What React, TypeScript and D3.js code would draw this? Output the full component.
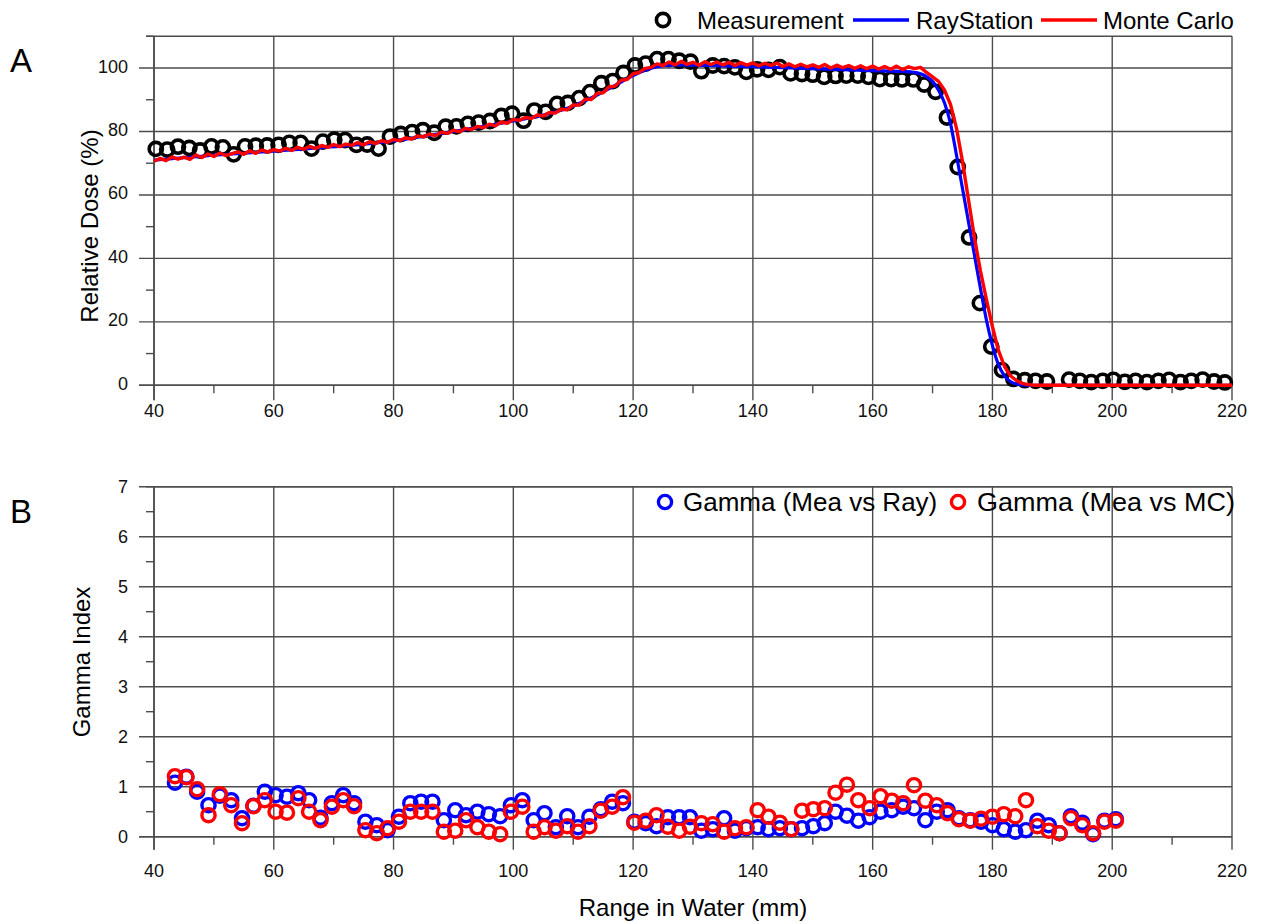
import React from 'react';
import * as d3 from 'd3';

// ---------- data ----------
const xTicks = [40, 60, 80, 100, 120, 140, 160, 180, 200, 220];
const xMinorTicks = [50, 70, 90, 110, 130, 150, 170, 190, 210];
const doseTicks = [0, 20, 40, 60, 80, 100];
const doseMinorTicks = [10, 30, 50, 70, 90, 110];
const gammaTicks = [0, 1, 2, 3, 4, 5, 6, 7];
const gammaMinorTicks = [0.5, 1.5, 2.5, 3.5, 4.5, 5.5, 6.5];

const measX = [
  40.3, 42.2, 44.0, 45.9, 47.7, 49.6, 51.5, 53.3, 55.2, 57.0,
  58.9, 60.8, 62.6, 64.5, 66.3, 68.2, 70.1, 71.9, 73.8, 75.6,
  77.5, 79.4, 81.2, 83.1, 84.9, 86.8, 88.7, 90.5, 92.4, 94.2,
  96.1, 98.0, 99.8, 101.7, 103.5, 105.4, 107.3, 109.1, 111.0, 112.8,
  114.7, 116.6, 118.4, 120.3, 122.1, 124.0, 125.9, 127.7, 129.6, 131.4,
  133.3, 135.2, 137.0, 138.9, 140.7, 142.6, 144.5, 146.3, 148.2, 150.0,
  151.9, 153.8, 155.6, 157.5, 159.3, 161.2, 163.1, 164.9, 166.8, 168.6,
  170.5, 172.4, 174.2, 176.1, 177.9, 179.8, 181.6, 183.5, 185.4, 187.2,
  189.1, 192.8, 194.6, 196.5, 198.4, 200.2, 202.1, 203.9, 205.8, 207.7,
  209.5, 211.4, 213.2, 215.1, 217.0, 218.8,
];
const measY = [
  74.5, 74.3, 75.2, 74.8, 74.0, 75.3, 75.0, 72.8, 75.3, 75.5,
  75.6, 75.8, 76.4, 76.4, 74.6, 76.8, 77.4, 77.3, 75.8, 75.9,
  74.6, 78.4, 79.2, 79.8, 80.4, 79.6, 81.5, 81.6, 82.4, 82.8,
  83.3, 84.9, 85.6, 83.4, 86.6, 86.2, 88.7, 89.0, 90.5, 92.4,
  95.2, 95.9, 98.5, 100.8, 101.4, 102.8, 102.8, 102.3, 102.0, 99.0,
  100.8, 100.6, 100.2, 98.8, 99.6, 99.4, 100.3, 98.3, 98.1, 97.9,
  97.2, 97.5, 97.6, 97.6, 97.2, 96.5, 96.5, 96.4, 96.4, 94.8,
  92.5, 84.4, 68.8, 46.6, 25.9, 12.2, 4.8, 2.0, 1.6, 1.4,
  1.2, 1.8, 1.4, 1.0, 1.4, 1.7, 1.1, 1.4, 1.0, 1.4,
  1.7, 1.0, 1.4, 1.8, 1.2, 0.9,
];

const rayX = [
  40, 50, 60, 70, 80, 85, 90, 95, 100, 105,
  108, 110, 112, 114, 116, 118, 120, 122, 124, 126,
  128, 130, 135, 140, 145, 150, 155, 160, 165, 167,
  168, 169, 170, 171, 172, 173, 174, 175, 176, 177,
  178, 179, 180, 181, 182, 183, 184, 185, 186, 220,
];
const rayY = [
  71, 72.5, 73.8, 75.2, 77, 78.5, 80, 81.6, 83.3, 85.2,
  86.7, 88, 89.7, 91.5, 93.5, 95.6, 97.6, 99.3, 100.4, 100.9,
  101, 100.9, 100.7, 100.4, 100.1, 99.8, 99.5, 99.2, 98.9, 98.6,
  98.2, 97.3, 95.8, 93, 89, 82.5, 72.5, 62, 51.5, 41,
  30.5, 20.5, 12.5, 6.5, 3, 1.2, 0.4, 0.1, 0, 0,
];

const mcX = [
  40, 41, 42, 43, 44, 45, 46, 47, 48, 49,
  50, 51, 52, 53, 54, 55, 56, 57, 58, 59,
  60, 61, 62, 63, 64, 65, 66, 67, 68, 69,
  70, 71, 72, 73, 74, 75, 76, 77, 78, 79,
  80, 81, 82, 83, 84, 85, 86, 87, 88, 89,
  90, 91, 92, 93, 94, 95, 96, 97, 98, 99,
  100, 101, 102, 103, 104, 105, 106, 107, 108, 109,
  110, 111, 112, 113, 114, 115, 116, 117, 118, 119,
  120, 121, 122, 123, 124, 125, 126, 127, 128, 129,
  130, 131, 132, 133, 134, 135, 136, 137, 138, 139,
  140, 141, 142, 143, 144, 145, 146, 147, 148, 149,
  150, 151, 152, 153, 154, 155, 156, 157, 158, 159,
  160, 161, 162, 163, 164, 165, 166, 167, 168, 169,
  170, 171, 172, 173, 174, 175, 176, 177, 178, 179,
  180, 181, 182, 183, 184, 185, 186, 187, 220,
];
const mcY = [
  70.6, 71.5, 70.8, 72.0, 71.3, 71.9, 71.2, 72.6, 71.8, 72.9,
  72.1, 73.2, 72.4, 73.0, 73.6, 72.8, 73.9, 73.1, 74.2, 73.5,
  74.3, 73.8, 74.7, 74.0, 75.0, 74.4, 75.3, 74.6, 75.6, 75.0,
  75.9, 75.2, 76.0, 75.6, 76.5, 75.8, 76.8, 76.2, 77.1, 76.6,
  77.5, 77.1, 78.0, 77.6, 78.6, 78.3, 79.2, 78.7, 79.8, 79.4,
  80.4, 79.9, 81.0, 80.6, 81.6, 81.2, 82.3, 81.8, 83.0, 82.6,
  83.8, 83.5, 84.4, 84.1, 85.2, 84.9, 86.0, 85.8, 87.0, 86.8,
  88.4, 88.3, 90.2, 90.1, 92.0, 92.2, 94.1, 94.3, 96.2, 96.4,
  98.2, 98.6, 99.9, 100.2, 101.3, 100.8, 101.9, 101.0, 102.1, 101.2,
  101.8, 100.9, 102.0, 101.1, 101.9, 101.0, 101.8, 100.8, 101.7, 100.9,
  101.6, 100.7, 101.5, 100.8, 101.6, 100.5, 101.3, 100.4, 101.2, 100.4,
  101.0, 100.2, 101.1, 100.0, 100.9, 100.1, 100.8, 99.9, 100.7, 99.8,
  100.6, 99.7, 100.5, 99.6, 100.6, 99.5, 100.4, 99.8, 100.2, 98.6,
  97.2, 95.8, 93.0, 88.5, 81.0, 70.5, 58.5, 46.5, 36.0, 27.0,
  18.5, 11.0, 6.0, 3.0, 1.5, 0.6, 0.2, 0, 0,
];

const gammaX = [
  43.5, 45.4, 47.2, 49.1, 51.0, 52.9, 54.7, 56.6, 58.5, 60.3,
  62.2, 64.1, 65.9, 67.8, 69.7, 71.6, 73.4, 75.3, 77.2, 79.0,
  80.9, 82.8, 84.6, 86.5, 88.4, 90.3, 92.1, 94.0, 95.9, 97.8,
  99.6, 101.5, 103.4, 105.2, 107.1, 109.0, 110.8, 112.7, 114.6, 116.5,
  118.3, 120.2, 122.1, 123.9, 125.8, 127.7, 129.5, 131.4, 133.3, 135.2,
  137.0, 138.9, 140.8, 142.6, 144.5, 146.4, 148.2, 150.1, 152.0, 153.8,
  155.7, 157.6, 159.5, 161.3, 163.2, 165.1, 166.9, 168.8, 170.7, 172.5,
  174.4, 176.3, 178.1, 180.0, 181.9, 183.8, 185.6, 187.5, 189.4, 191.2,
  193.1, 195.0, 196.8, 198.7, 200.6,
];
const gammaRay = [
  1.08, 1.2, 0.9, 0.63, 0.82, 0.73, 0.37, 0.62, 0.9, 0.83,
  0.8, 0.87, 0.73, 0.38, 0.67, 0.83, 0.67, 0.3, 0.23, 0.13,
  0.4, 0.67, 0.7, 0.7, 0.33, 0.53, 0.43, 0.5, 0.45, 0.41,
  0.63, 0.73, 0.33, 0.47, 0.19, 0.41, 0.19, 0.4, 0.55, 0.7,
  0.67, 0.3, 0.27, 0.21, 0.39, 0.39, 0.39, 0.12, 0.15, 0.37,
  0.12, 0.17, 0.19, 0.15, 0.17, 0.15, 0.17, 0.21, 0.27, 0.5,
  0.42, 0.32, 0.39, 0.5, 0.53, 0.6, 0.57, 0.33, 0.5, 0.53,
  0.37, 0.33, 0.3, 0.23, 0.15, 0.1, 0.13, 0.32, 0.23, 0.07,
  0.41, 0.28, 0.05, 0.32, 0.35,
];
const gammaMC = [
  1.21, 1.19, 0.95, 0.43, 0.85, 0.63, 0.27, 0.61, 0.73, 0.5,
  0.48, 0.77, 0.5, 0.33, 0.6, 0.73, 0.61, 0.13, 0.07, 0.17,
  0.3, 0.5, 0.5, 0.5, 0.1, 0.12, 0.33, 0.19, 0.1, 0.05,
  0.5, 0.6, 0.1, 0.19, 0.12, 0.21, 0.1, 0.21, 0.52, 0.6,
  0.79, 0.28, 0.32, 0.43, 0.2, 0.12, 0.2, 0.27, 0.25, 0.1,
  0.17, 0.19, 0.53, 0.4, 0.28, 0.15, 0.52, 0.55, 0.57, 0.88,
  1.04, 0.73, 0.57, 0.81, 0.72, 0.67, 1.03, 0.72, 0.63, 0.47,
  0.35, 0.32, 0.36, 0.4, 0.45, 0.41, 0.73, 0.21, 0.12, 0.07,
  0.37, 0.23, 0.07, 0.3, 0.32,
];

const FONT = '"Liberation Sans", Arial, Helvetica, sans-serif';
const GRID = '#4d4d4d';
const BLUE = '#0000ff';
const RED = '#ff0000';
const R = 6.6;

export default function App() {
  const x = d3.scaleLinear().domain([40, 220]).range([154, 1232]);
  const yTop = d3.scaleLinear().domain([0, 110]).range([385.3, 36.3]);
  const yBot = d3.scaleLinear().domain([0, 7]).range([836.7, 486.7]);

  const line = (ys: d3.ScaleLinear<number, number>) =>
    d3
      .line<[number, number]>()
      .x((d) => x(d[0]))
      .y((d) => ys(d[1]));

  const rayPts: [number, number][] = rayX.map((v, i) => [v, rayY[i]]);
  const mcPts: [number, number][] = mcX.map((v, i) => [v, mcY[i]]);
  const rayPath = line(yTop).curve(d3.curveMonotoneX)(rayPts) || '';
  const mcPath = line(yTop)(mcPts) || '';

  const panel = (
    ys: d3.ScaleLinear<number, number>,
    major: number[],
    minor: number[],
    fmt: (v: number) => string,
    labelDy: number,
    xLabelY: number,
    xMajorLen: number,
    xMinorLen: number
  ) => {
    const [y0, y1] = ys.range();
    const [d0, d1] = ys.domain();
    return (
      <g>
        {major.map((v) => (
          <line key={'h' + v} x1={139} x2={1232} y1={ys(v)} y2={ys(v)} stroke={GRID} strokeWidth={1.4} />
        ))}
        <line x1={146} x2={1232} y1={ys(d1)} y2={ys(d1)} stroke={GRID} strokeWidth={1.4} />
        {minor.map((v) => (
          <line key={'hm' + v} x1={146} x2={154} y1={ys(v)} y2={ys(v)} stroke={GRID} strokeWidth={1.4} />
        ))}
        {xTicks.map((v) => (
          <line key={'v' + v} x1={x(v)} x2={x(v)} y1={y1} y2={y0 + xMajorLen} stroke={GRID} strokeWidth={1.4} />
        ))}
        {xMinorTicks.map((v) => (
          <line key={'vm' + v} x1={x(v)} x2={x(v)} y1={y0} y2={y0 + xMinorLen} stroke={GRID} strokeWidth={1.4} />
        ))}
        <line x1={139} x2={1232} y1={ys(d0)} y2={ys(d0)} stroke={GRID} strokeWidth={1.6} />
        <line x1={154} x2={154} y1={y1} y2={y0 + xMajorLen} stroke={GRID} strokeWidth={1.6} />
        {major.map((v) => (
          <text key={'yl' + v} x={128} y={ys(v) + labelDy} textAnchor="end" fontSize={18} fontFamily={FONT} fill="#111">
            {fmt(v)}
          </text>
        ))}
        {xTicks.map((v) => (
          <text key={'xl' + v} x={x(v)} y={xLabelY} textAnchor="middle" fontSize={18} fontFamily={FONT} fill="#111">
            {v}
          </text>
        ))}
      </g>
    );
  };

  return (
    <svg
      width={1264}
      height={924}
      viewBox="0 0 1264 924"
      style={{ position: 'absolute', left: 0, top: 0, background: '#fff' }}
    >
      <rect x={0} y={0} width={1264} height={924} fill="#fff" />

      {/* ---------- Panel A ---------- */}
      {panel(yTop, doseTicks, doseMinorTicks, (v) => String(v), 4.5, 417, 15, 8)}

      {measX.map((v, i) => (
        <circle key={'m' + i} cx={x(v)} cy={yTop(measY[i])} r={R} fill="none" stroke="#000" strokeWidth={3.6} />
      ))}
      <path d={rayPath} fill="none" stroke={BLUE} strokeWidth={3.2} />
      <path d={mcPath} fill="none" stroke={RED} strokeWidth={3.4} strokeLinejoin="round" />

      {/* legend A */}
      <circle cx={663} cy={20} r={R} fill="none" stroke="#000" strokeWidth={3.6} />
      <text x={697} y={28.5} fontSize={24} fontFamily={FONT} fill="#000">Measurement</text>
      <line x1={853} x2={909} y1={20} y2={20} stroke={BLUE} strokeWidth={3.5} />
      <text x={916} y={28.5} fontSize={24} fontFamily={FONT} fill="#000">RayStation</text>
      <line x1={1041} x2={1097} y1={20} y2={20} stroke={RED} strokeWidth={3.5} />
      <text x={1103} y={28.5} fontSize={24} fontFamily={FONT} fill="#000">Monte Carlo</text>

      <text x={10} y={72} fontSize={33} fontFamily={FONT} fill="#000">A</text>
      <text
        transform={`translate(98, 226) rotate(-90)`}
        textAnchor="middle"
        fontSize={24}
        fontFamily={FONT}
        fill="#000"
      >
        Relative Dose (%)
      </text>

      {/* ---------- Panel B ---------- */}
      {panel(yBot, gammaTicks, gammaMinorTicks, (v) => String(v), 6, 877, 13, 8)}

      {gammaX.map((v, i) => (
        <circle key={'gr' + i} cx={x(v)} cy={yBot(gammaRay[i])} r={R} fill="none" stroke={BLUE} strokeWidth={3.4} />
      ))}
      {gammaX.map((v, i) => (
        <circle key={'gm' + i} cx={x(v)} cy={yBot(gammaMC[i])} r={R} fill="none" stroke={RED} strokeWidth={3.4} />
      ))}

      {/* legend B */}
      <circle cx={665} cy={502} r={R} fill="none" stroke={BLUE} strokeWidth={3.4} />
      <text x={683} y={511} fontSize={26} fontFamily={FONT} fill="#000">Gamma (Mea vs Ray)</text>
      <circle cx={958} cy={502} r={R} fill="none" stroke={RED} strokeWidth={3.4} />
      <text x={977} y={511} fontSize={26} textLength={258} lengthAdjust="spacingAndGlyphs" fontFamily={FONT} fill="#000">
        Gamma (Mea vs MC)
      </text>

      <text x={10} y={523} fontSize={33} fontFamily={FONT} fill="#000">B</text>
      <text
        transform={`translate(90, 662) rotate(-90)`}
        textAnchor="middle"
        fontSize={24}
        fontFamily={FONT}
        fill="#000"
      >
        Gamma Index
      </text>

      <text x={693} y={916} textAnchor="middle" fontSize={24} fontFamily={FONT} fill="#000">
        Range in Water (mm)
      </text>
    </svg>
  );
}
